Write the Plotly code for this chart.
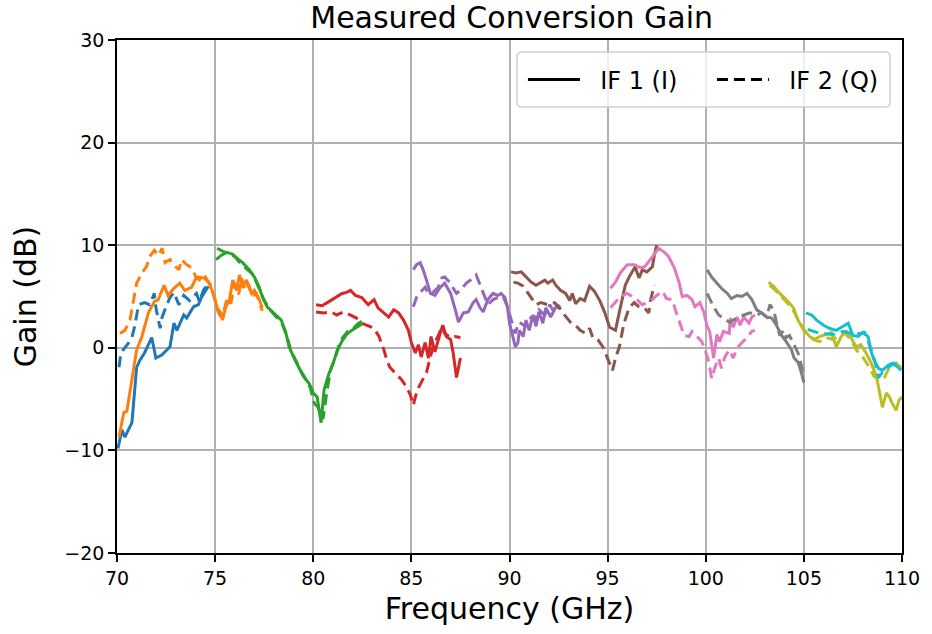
import plotly.graph_objects as go

# ---------------- data (GHz, dB) ----------------
blue_if1_x = [70.05, 70.25, 70.4, 70.76, 71.0, 71.17, 71.4, 71.77, 71.98, 72.28, 72.7, 72.9, 73.05, 73.4, 73.55, 73.9, 74.15, 74.3, 74.65]
blue_if1_y = [-9.8, -8.0, -8.7, -7.3, -1.9, -1.2, -0.5, 1.0, -1.0, -0.7, 0.1, 2.4, 1.7, 3.2, 2.9, 4.0, 4.2, 4.9, 6.0]
blue_if2_x = [70.1, 70.2, 70.6, 70.76, 70.9, 71.1, 71.4, 71.67, 71.9, 72.0, 72.2, 72.3, 72.5, 72.7, 72.9, 73.15, 73.4, 73.7, 74.05, 74.2, 74.4, 74.55]
blue_if2_y = [-1.9, -0.5, 0.5, 1.0, 2.1, 4.2, 4.4, 4.2, 5.3, 3.7, 1.9, 3.0, 4.0, 4.9, 5.4, 4.2, 5.1, 4.6, 5.3, 4.5, 5.6, 6.0]

orange_if1_x = [70.1, 70.35, 70.5, 70.76, 71.0, 71.27, 71.6, 71.9, 72.1, 72.4, 72.6, 72.9, 73.2, 73.45, 73.8, 74.05, 74.3, 74.46, 74.7, 74.97, 75.1, 75.3, 75.37, 75.55, 75.73, 75.9, 76.1, 76.24, 76.4, 76.6, 76.85, 77.0, 77.25, 77.4]
orange_if1_y = [-8.7, -6.3, -6.2, -3.1, -0.2, 1.1, 3.4, 4.5, 4.7, 6.1, 5.1, 5.8, 6.3, 5.6, 5.9, 6.9, 6.8, 6.8, 6.3, 4.9, 3.9, 3.4, 2.7, 4.0, 4.7, 6.6, 5.6, 7.1, 5.9, 6.6, 5.3, 5.6, 4.7, 3.9]
orange_if2_x = [70.15, 70.4, 70.66, 70.86, 71.0, 71.27, 71.5, 71.67, 71.9, 72.1, 72.3, 72.45, 72.7, 72.9, 73.15, 73.3, 73.55, 73.8, 74.05, 74.3, 74.5, 74.8, 75.0, 75.15, 75.3, 75.45, 75.6, 75.8, 76.0, 76.2, 76.35, 76.5, 76.7, 76.9, 77.1, 77.3, 77.4]
orange_if2_y = [1.4, 1.7, 2.7, 4.7, 6.3, 7.3, 7.9, 8.9, 9.5, 9.0, 9.7, 8.3, 8.6, 8.1, 7.6, 8.6, 8.1, 7.8, 6.8, 6.5, 6.9, 6.0, 4.5, 3.5, 3.0, 3.6, 4.8, 4.3, 6.3, 5.2, 6.8, 5.6, 6.2, 5.0, 5.3, 4.3, 3.6]

green_if1_x = [75.05, 75.3, 75.6, 75.9, 76.2, 76.4, 76.74, 77.0, 77.25, 77.4, 77.65, 78.0, 78.37, 78.6, 78.77, 79.0, 79.28, 79.5, 79.8, 80.0, 80.2, 80.4, 80.55, 80.8, 81.0, 81.2, 81.45, 81.7, 81.95, 82.2, 82.47]
green_if1_y = [8.6, 9.0, 9.3, 9.1, 8.6, 8.3, 7.6, 6.9, 5.9, 5.0, 4.0, 3.4, 2.7, 1.5, 0.1, -0.9, -1.9, -2.8, -3.5, -4.4, -4.8, -7.3, -4.1, -2.5, -1.6, -0.4, 0.6, 1.3, 1.7, 2.0, 2.3]
green_if2_x = [75.1, 75.4, 75.7, 76.0, 76.3, 76.6, 76.9, 77.1, 77.3, 77.5, 77.8, 78.1, 78.4, 78.65, 78.85, 79.1, 79.35, 79.6, 79.85, 80.05, 80.25, 80.35, 80.5, 80.7, 80.9, 81.1, 81.3, 81.5, 81.75, 82.0, 82.25, 82.5]
green_if2_y = [9.7, 9.4, 9.2, 8.9, 8.2, 7.7, 7.2, 6.4, 5.5, 4.6, 3.7, 3.1, 2.4, 1.2, -0.2, -1.2, -2.2, -3.0, -3.9, -5.4, -5.8, -6.6, -6.9, -4.2, -2.0, -1.1, 0.2, 1.0, 1.6, 1.8, 2.3, 2.6]

red_if1_x = [80.14, 80.45, 80.8, 81.15, 81.47, 81.7, 81.9, 82.15, 82.47, 82.8, 83.1, 83.3, 83.6, 83.84, 84.1, 84.35, 84.6, 84.85, 85.0, 85.2, 85.36, 85.5, 85.7, 85.87, 86.0, 86.2, 86.48, 86.6, 86.78, 87.0, 87.13, 87.3, 87.5]
red_if1_y = [4.2, 4.1, 4.5, 4.9, 5.3, 5.4, 5.6, 5.1, 4.9, 4.2, 4.7, 3.9, 3.4, 3.0, 3.7, 3.4, 2.7, 1.7, 0.5, -0.5, 0.3, -0.9, 0.5, -1.0, 1.1, -0.4, 1.5, 2.2, 1.1, 0.8, -0.5, -2.9, -1.0]
red_if2_x = [80.14, 80.55, 80.9, 81.2, 81.56, 81.9, 82.2, 82.47, 82.7, 83.1, 83.35, 83.6, 83.75, 83.9, 84.2, 84.5, 84.75, 84.95, 85.1, 85.2, 85.36, 85.6, 85.77, 85.97, 86.1, 86.4, 86.55, 86.7, 87.0, 87.2, 87.5]
red_if2_y = [3.5, 3.4, 3.5, 3.2, 3.5, 3.2, 2.9, 2.4, 2.2, 1.9, 1.1, -0.2, -1.2, -1.9, -2.5, -3.1, -3.8, -4.6, -5.6, -4.8, -3.9, -3.1, -2.4, -0.9, 0.1, 1.3, 2.1, 1.4, 1.0, 1.1, 1.0]

purple_if1_x = [85.1, 85.26, 85.45, 85.6, 85.77, 85.97, 86.2, 86.48, 86.7, 87.0, 87.24, 87.4, 87.65, 87.9, 88.15, 88.3, 88.5, 88.66, 88.9, 89.16, 89.4, 89.57, 89.77, 89.9, 90.0, 90.2, 90.3, 90.43, 90.5, 90.7, 90.84, 91.0, 91.2, 91.35, 91.5, 91.7, 91.85, 92.1, 92.36, 92.55]
purple_if1_y = [7.6, 8.1, 8.3, 7.6, 6.6, 5.3, 5.1, 5.9, 6.3, 5.3, 3.7, 2.5, 3.4, 3.5, 4.4, 4.7, 3.9, 3.5, 4.7, 5.3, 5.1, 5.3, 4.9, 3.9, 2.4, 1.0, 0.1, 0.5, 1.7, 1.1, 2.7, 1.7, 3.2, 2.1, 3.5, 2.4, 3.9, 3.0, 4.0, 3.9]
purple_if2_x = [85.1, 85.26, 85.45, 85.7, 85.87, 86.1, 86.37, 86.55, 86.7, 87.0, 87.13, 87.3, 87.5, 87.8, 88.15, 88.3, 88.55, 88.76, 88.9, 89.16, 89.4, 89.67, 89.9, 90.28, 90.5, 90.8, 91.0, 91.3, 91.5, 91.8, 92.05, 92.3, 92.55]
purple_if2_y = [4.0, 4.9, 5.4, 5.9, 5.3, 5.4, 5.9, 6.8, 6.9, 6.3, 5.8, 5.3, 5.6, 6.3, 6.8, 7.1, 5.9, 4.9, 4.2, 4.7, 4.9, 5.0, 4.0, 1.4, 2.5, 2.1, 3.0, 2.7, 3.7, 3.2, 4.2, 3.4, 4.2]

brown_if1_x = [90.08, 90.33, 90.6, 90.84, 91.1, 91.35, 91.6, 91.8, 91.95, 92.2, 92.36, 92.6, 92.86, 93.07, 93.2, 93.37, 93.6, 93.83, 94.08, 94.33, 94.6, 94.84, 95.1, 95.4, 95.6, 95.75, 95.9, 96.1, 96.26, 96.4, 96.6, 96.77, 97.0, 97.28, 97.38, 97.5]
brown_if1_y = [7.4, 7.3, 7.4, 6.9, 6.4, 6.1, 6.4, 6.6, 6.3, 6.6, 6.1, 5.6, 5.3, 4.6, 5.3, 4.3, 4.8, 4.6, 6.0, 5.5, 4.6, 3.5, 2.0, 1.7, 3.5, 4.9, 6.1, 6.9, 7.4, 7.9, 6.8, 7.6, 7.4, 7.9, 9.0, 10.0]
brown_if2_x = [90.2, 90.43, 90.7, 90.94, 91.2, 91.35, 91.6, 91.95, 92.3, 92.55, 92.8, 93.1, 93.37, 93.6, 93.9, 94.08, 94.24, 94.5, 94.75, 95.1, 95.25, 95.4, 95.6, 95.75, 95.85, 96.1, 96.35, 96.6, 96.87, 97.1, 97.17, 97.38]
brown_if2_y = [6.4, 6.3, 6.0, 5.3, 4.6, 4.2, 4.4, 4.2, 4.4, 3.9, 3.2, 2.5, 2.2, 1.7, 1.4, 1.9, 1.0, 0.8, 0.1, -1.4, -2.2, -1.0, 0.1, 1.6, 2.5, 3.9, 4.4, 4.0, 3.9, 3.4, 4.5, 6.1]

pink_if1_x = [95.15, 95.4, 95.65, 96.0, 96.36, 96.67, 96.9, 97.17, 97.43, 97.6, 97.9, 98.1, 98.4, 98.65, 98.8, 99.05, 99.3, 99.45, 99.7, 99.9, 100.07, 100.2, 100.3, 100.4, 100.57, 100.7, 100.9, 101.2, 101.25, 101.4, 101.6, 101.75, 101.94, 102.2, 102.35, 102.5]
pink_if1_y = [5.8, 6.4, 7.3, 8.1, 8.1, 7.8, 7.9, 8.6, 9.3, 9.7, 9.3, 8.9, 7.8, 6.3, 5.0, 5.1, 4.7, 4.0, 4.4, 3.5, 2.1, 1.6, 0.3, -1.0, 1.3, 0.6, 1.6, 1.4, 2.9, 2.0, 3.0, 2.2, 3.0, 2.4, 3.0, 3.2]
pink_if2_x = [95.15, 95.4, 95.65, 96.0, 96.26, 96.5, 96.77, 97.0, 97.28, 97.5, 97.8, 98.0, 98.3, 98.45, 98.7, 98.9, 99.15, 99.3, 99.56, 99.8, 99.96, 100.16, 100.3, 100.47, 100.66, 100.8, 100.97, 101.2, 101.4, 101.6, 101.84, 102.1, 102.35, 102.5]
pink_if2_y = [3.9, 4.4, 5.0, 5.3, 5.0, 4.7, 4.2, 4.4, 4.7, 5.1, 5.5, 4.8, 4.7, 3.7, 2.4, 1.2, 1.1, 1.6, 1.1, 0.6, -0.2, -1.4, -3.0, -1.9, -1.0, -2.0, -0.9, -0.2, -1.0, 0.0, 0.5, 1.0, 1.6, 1.7]

gray_if1_x = [100.07, 100.3, 100.57, 100.8, 101.1, 101.3, 101.6, 101.84, 102.1, 102.35, 102.6, 102.85, 103.1, 103.36, 103.6, 103.87, 104.1, 104.37, 104.5, 104.7, 104.87, 105.0]
gray_if1_y = [7.6, 6.9, 6.3, 5.8, 5.3, 4.8, 5.1, 5.0, 5.3, 4.7, 3.7, 3.4, 3.0, 2.9, 2.2, 1.2, 0.6, -0.2, -1.0, -1.4, -2.4, -3.4]
gray_if2_x = [100.07, 100.2, 100.4, 100.66, 100.9, 101.2, 101.4, 101.7, 101.94, 102.25, 102.6, 102.85, 103.1, 103.27, 103.46, 103.6, 103.77, 103.97, 104.1, 104.27, 104.5, 104.7, 104.87, 105.0]
gray_if2_y = [5.3, 4.8, 4.0, 3.2, 2.9, 2.5, 2.7, 3.0, 3.2, 3.4, 3.2, 3.4, 3.0, 4.2, 3.7, 2.5, 1.2, 1.7, 1.0, 1.2, 0.3, -0.5, -1.7, -2.6]

olive_if1_x = [103.2, 103.46, 103.77, 104.1, 104.47, 104.7, 105.0, 105.3, 105.54, 105.8, 106.15, 106.4, 106.65, 106.9, 107.16, 107.4, 107.67, 107.9, 108.17, 108.43, 108.7, 108.83, 109.0, 109.2, 109.36, 109.5, 109.7, 109.85, 110.0]
olive_if1_y = [6.4, 6.0, 5.3, 4.7, 3.9, 2.7, 1.7, 1.1, 0.8, 1.1, 1.3, 1.5, 0.1, 1.1, 1.6, 1.0, 0.1, 0.3, -0.5, -1.5, -2.8, -4.1, -5.8, -4.4, -4.8, -5.4, -6.1, -5.1, -4.8]
olive_if2_x = [103.25, 103.5, 103.8, 104.15, 104.5, 104.8, 105.1, 105.5, 105.8, 106.15, 106.5, 106.8, 107.05, 107.4, 107.67, 108.0, 108.33, 108.58, 108.83, 109.1, 109.36, 109.7, 109.95]
olive_if2_y = [6.1, 5.7, 5.1, 4.4, 3.5, 2.4, 1.5, 0.8, 0.6, 1.0, 0.8, 1.3, 1.5, 0.8, -0.2, -0.9, -1.9, -2.8, -3.1, -2.9, -1.9, -1.5, -1.9]

cyan_if1_x = [105.1, 105.4, 105.65, 106.0, 106.3, 106.65, 107.0, 107.26, 107.5, 107.77, 108.0, 108.27, 108.43, 108.58, 108.8, 109.0, 109.3, 109.5, 109.8, 109.95]
cyan_if1_y = [3.4, 3.2, 2.7, 2.2, 1.9, 1.7, 2.1, 2.4, 1.2, 1.1, 1.5, 1.1, -0.4, -1.2, -2.0, -2.2, -1.7, -1.5, -1.9, -2.2]
cyan_if2_x = [105.2, 105.8, 106.5, 107.0, 107.6, 108.1, 108.4, 108.6, 108.8, 109.0, 109.3, 109.6, 110.0]
cyan_if2_y = [1.8, 1.4, 1.3, 1.6, 1.3, 1.5, 0.0, -1.2, -2.9, -2.4, -1.9, -1.5, -2.0]

series = [
    ("#1f77b4", blue_if1_x, blue_if1_y, blue_if2_x, blue_if2_y),
    ("#ff7f0e", orange_if1_x, orange_if1_y, orange_if2_x, orange_if2_y),
    ("#2ca02c", green_if1_x, green_if1_y, green_if2_x, green_if2_y),
    ("#d62728", red_if1_x, red_if1_y, red_if2_x, red_if2_y),
    ("#9467bd", purple_if1_x, purple_if1_y, purple_if2_x, purple_if2_y),
    ("#8c564b", brown_if1_x, brown_if1_y, brown_if2_x, brown_if2_y),
    ("#e377c2", pink_if1_x, pink_if1_y, pink_if2_x, pink_if2_y),
    ("#7f7f7f", gray_if1_x, gray_if1_y, gray_if2_x, gray_if2_y),
    ("#bcbd22", olive_if1_x, olive_if1_y, olive_if2_x, olive_if2_y),
    ("#17becf", cyan_if1_x, cyan_if1_y, cyan_if2_x, cyan_if2_y),
]

legend_labels = ["IF 1 (I)", "IF 2 (Q)"]
x_ticks = [70, 75, 80, 85, 90, 95, 100, 105, 110]
y_ticks = [-20, -10, 0, 10, 20, 30]

DASH = "11px,6px"
LW = 3

fig = go.Figure()
for color, x1, y1, x2, y2 in series:
    fig.add_trace(go.Scatter(x=x1, y=y1, mode="lines", showlegend=False,
                             line=dict(color=color, width=LW)))
    fig.add_trace(go.Scatter(x=x2, y=y2, mode="lines", showlegend=False,
                             line=dict(color=color, width=LW, dash=DASH)))

NB = "\u00a0\u00a0"  # gap between legend sample and label
fig.add_trace(go.Scatter(x=[None], y=[None], mode="lines", name=NB + legend_labels[0],
                         line=dict(color="black", width=LW)))
fig.add_trace(go.Scatter(x=[None], y=[None], mode="lines", name=NB + legend_labels[1],
                         line=dict(color="black", width=LW, dash=DASH)))

font_family = "DejaVu Sans"
axis_common = dict(
    showline=True, linecolor="black", linewidth=1.5, mirror=True,
    ticks="outside", ticklen=7, tickwidth=1.5, tickcolor="black",
    showgrid=True, gridcolor="#b0b0b0", gridwidth=1.6,
    zeroline=False, tickfont=dict(size=19, color="black", family=font_family),
)

# legend frame (matplotlib-style rounded, semi-transparent box)
PW, PH = 789.0, 513.0
x0, x1 = (519 - 117) / PW, (894 - 117) / PW
y0, y1 = (553 - 107) / PH, (553 - 52) / PH
rx, ry = 5 / PW, 5 / PH
frame_path = (f"M {x0+rx},{y0} L {x1-rx},{y0} Q {x1},{y0} {x1},{y0+ry} "
              f"L {x1},{y1-ry} Q {x1},{y1} {x1-rx},{y1} L {x0+rx},{y1} "
              f"Q {x0},{y1} {x0},{y1-ry} L {x0},{y0+ry} Q {x0},{y0} {x0+rx},{y0} Z")

fig.update_layout(
    width=932, height=634,
    margin=dict(l=117, r=26, t=40, b=81),
    paper_bgcolor="white", plot_bgcolor="white",
    font=dict(family=font_family, color="black"),
    title=dict(text="Measured Conversion Gain", x=0.549, xanchor="center",
               y=0.972, yanchor="middle", yref="container",
               font=dict(size=30, color="black", family=font_family)),
    xaxis=dict(range=[70, 110], tickvals=x_ticks,
               title=dict(text="Frequency (GHz)", font=dict(size=30, color="black"), standoff=10),
               **axis_common),
    yaxis=dict(range=[-20, 30], tickvals=y_ticks,
               ticktext=[("\u2212" + str(-v)) if v < 0 else str(v) for v in y_ticks],
               title=dict(text="Gain (dB)", font=dict(size=30, color="black"), standoff=19),
               **axis_common),
    shapes=[dict(type="path", xref="paper", yref="paper", path=frame_path, layer="above",
                 fillcolor="rgba(255,255,255,0.8)", line=dict(color="#d0d0d0", width=1.5))],
    legend=dict(orientation="h", x=(525 - 117) / PW, xanchor="left",
                y=(553 - 80) / PH, yanchor="middle",
                bgcolor="rgba(0,0,0,0)", borderwidth=0,
                font=dict(size=24, color="black", family=font_family),
                itemwidth=52, entrywidth=122, entrywidthmode="pixels"),
)

fig.write_html("out.html")
